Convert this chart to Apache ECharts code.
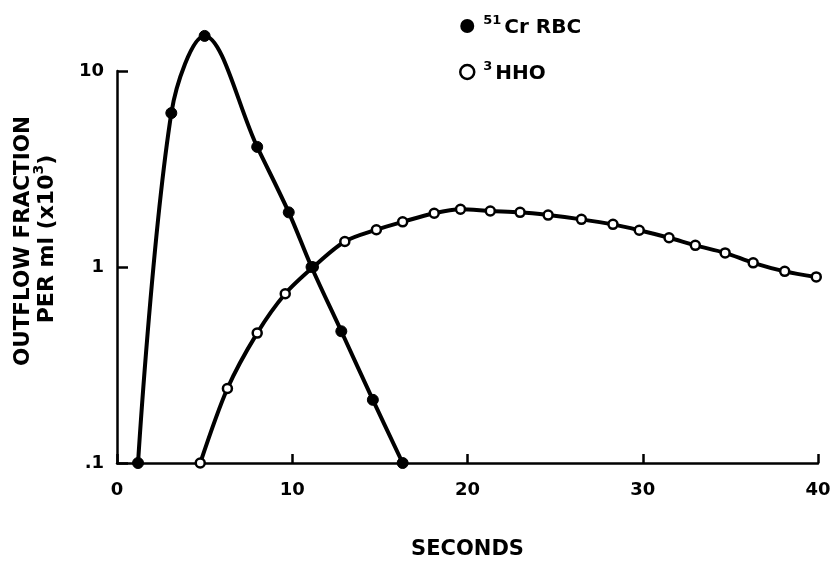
<!DOCTYPE html>
<html>
<head>
<meta charset="utf-8">
<script src="https://cdn.jsdelivr.net/npm/echarts@6/dist/echarts.min.js"></script>
<style>html,body{margin:0;padding:0;background:#fff}#c{width:833px;height:561px}</style>
</head>
<body>
<div id="c"></div>
<script>
// Data (seconds, outflow fraction per ml x10^3)
var crSeconds = [1.2, 3.1, 5.0, 8.0, 9.8, 11.1, 12.8, 14.6, 16.3];
var crValues  = [0.1, 6.1, 15.1, 4.1, 1.9, 1.0, 0.47, 0.21, 0.1];
var hhoSeconds = [4.75, 6.3, 8.0, 9.6, 11.2, 13.0, 14.8, 16.3, 18.1, 19.6, 21.3, 23.0, 24.6, 26.5, 28.3, 29.8, 31.5, 33.0, 34.7, 36.3, 38.1, 39.9];
var hhoValues  = [0.1, 0.24, 0.46, 0.73, 1.0, 1.35, 1.55, 1.70, 1.88, 1.97, 1.93, 1.90, 1.84, 1.75, 1.65, 1.54, 1.41, 1.29, 1.18, 1.05, 0.95, 0.89];
var xTickLabels = ['0', '10', '20', '30', '40'];
var yTickLabels = {'0.1': '.1', '1': '1', '10': '10'};
var seriesNames = ['cr', 'hho'];

var F = 'DejaVu Sans';
function pairs(xs, ys) { return xs.map(function (x, i) { return [x, ys[i]]; }); }

var chart = echarts.init(document.getElementById('c'));
chart.setOption({
  animation: false,
  backgroundColor: '#fff',
  grid: { left: 117, right: 15, top: 71, bottom: 98, outerBoundsMode: 'none', containLabel: false },
  legend: {
    orient: 'vertical',
    left: 454, top: 3,
    itemGap: 16,
    itemWidth: 14, itemHeight: 14,
    data: [
      { name: 'cr', icon: 'circle', itemStyle: { color: '#000', borderColor: '#000', borderWidth: 0 } },
      { name: 'hho', icon: 'circle', itemStyle: { color: '#fff', borderColor: '#000', borderWidth: 2.5 } }
    ],
    formatter: function (n) {
      return n === 'cr' ? '{sup|51}{main|Cr RBC}' : '{sup|3}{main|HHO}';
    },
    textStyle: {
      color: '#000',
      rich: {
        sup: { fontFamily: F, fontWeight: 'bold', fontSize: 13, verticalAlign: 'top', lineHeight: 24, padding: [0, 3, 0, 4] },
        main: { fontFamily: F, fontWeight: 'bold', fontSize: 20, verticalAlign: 'bottom', lineHeight: 24, padding: [10, 0, 0, 0] }
      }
    }
  },
  xAxis: {
    type: 'value', min: 0, max: 40, interval: 10,
    name: 'SECONDS', nameLocation: 'middle', nameGap: 76,
    nameTextStyle: { fontFamily: F, fontWeight: 'bold', fontSize: 21, color: '#000' },
    axisLine: { lineStyle: { color: '#000', width: 2.5 } },
    axisTick: { inside: true, length: 9, lineStyle: { color: '#000', width: 2.5 } },
    axisLabel: {
      margin: 18, color: '#000', fontFamily: F, fontWeight: 'bold', fontSize: 18,
      formatter: function (v) { return xTickLabels[Math.round(v / 10)]; }
    },
    splitLine: { show: false }
  },
  yAxis: {
    type: 'log', logBase: 10, min: 0.1, max: 10,
    axisLine: { show: true, lineStyle: { color: '#000', width: 2.5 } },
    axisTick: { show: true, inside: true, length: 11, lineStyle: { color: '#000', width: 2.5 } },
    axisLabel: {
      margin: 13, color: '#000', fontFamily: F, fontWeight: 'bold', fontSize: 18,
      formatter: function (v) { var k = String(+v.toPrecision(3)); return yTickLabels[k] || ''; }
    },
    splitLine: { show: false }
  },
  graphic: [
    {
      type: 'text', x: 23, y: 241, rotation: Math.PI / 2,
      style: { text: 'OUTFLOW FRACTION', fontFamily: F, fontWeight: 'bold', fontSize: 21.5, fill: '#000', align: 'center', verticalAlign: 'middle' }
    },
    {
      type: 'text', x: 45, y: 239, rotation: Math.PI / 2,
      style: {
        text: '{m|PER ml (x10}{s|3}{m|)}', align: 'center', verticalAlign: 'middle',
        rich: {
          m: { fontFamily: F, fontWeight: 'bold', fontSize: 22, fill: '#000', verticalAlign: 'bottom', lineHeight: 26 },
          s: { fontFamily: F, fontWeight: 'bold', fontSize: 14, fill: '#000', verticalAlign: 'top', lineHeight: 26 }
        }
      }
    }
  ],
  series: [
    {
      name: 'cr', type: 'line', clip: false, smooth: 0.35,
      data: pairs(crSeconds, crValues),
      symbol: 'circle', symbolSize: 11,
      lineStyle: { color: '#000', width: 4 },
      itemStyle: { color: '#000', borderColor: '#000' },
      z: 3
    },
    {
      name: 'hho', type: 'line', clip: false, smooth: 0.3,
      data: pairs(hhoSeconds, hhoValues),
      symbol: 'circle', symbolSize: 9,
      lineStyle: { color: '#000', width: 4 },
      itemStyle: { color: '#fff', borderColor: '#000', borderWidth: 2.5 },
      z: 2
    }
  ]
});
</script>
</body>
</html>
